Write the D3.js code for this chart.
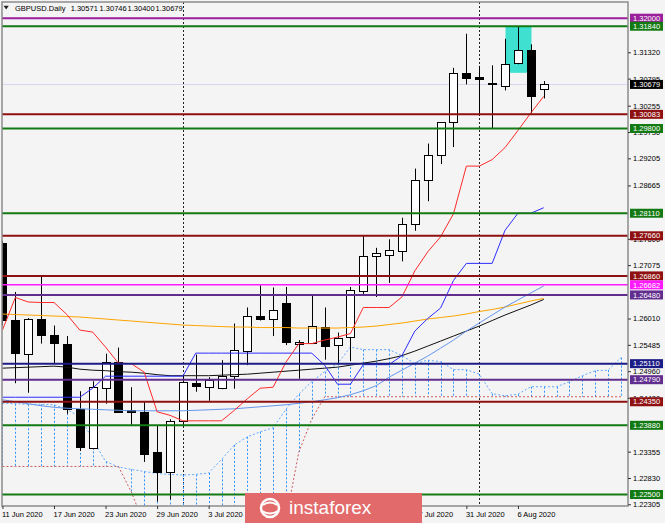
<!DOCTYPE html>
<html><head><meta charset="utf-8">
<script src="https://cdn.jsdelivr.net/npm/d3@7"></script>
<style>
html,body{margin:0;padding:0;background:#f4f4f4;}
svg{display:block;}
text{font-family:"Liberation Sans",Arial,sans-serif;}
</style></head><body>
<svg id="c" width="665" height="523"></svg>
<script>
// ---------- DATA ----------
const dates = ["2020-06-11","2020-06-12","2020-06-15","2020-06-16","2020-06-17","2020-06-18","2020-06-19",
"2020-06-22","2020-06-23","2020-06-24","2020-06-25","2020-06-26","2020-06-29","2020-06-30","2020-07-01",
"2020-07-02","2020-07-03","2020-07-06","2020-07-07","2020-07-08","2020-07-09","2020-07-10","2020-07-13",
"2020-07-14","2020-07-15","2020-07-16","2020-07-17","2020-07-20","2020-07-21","2020-07-22","2020-07-23",
"2020-07-24","2020-07-27","2020-07-28","2020-07-29","2020-07-30","2020-07-31","2020-08-03","2020-08-04",
"2020-08-05","2020-08-06","2020-08-07","2020-08-10"];
const open  = [1.2752,1.2599,1.2530,1.2600,1.2568,1.2550,1.2420,1.2344,1.2464,1.2515,1.2418,1.2415,1.2334,1.2295,1.2397,
1.2472,1.2465,1.2463,1.2487,1.2538,1.2606,1.2601,1.2631,1.2552,1.2553,1.2585,1.2550,1.2563,1.2657,1.2725,1.2728,
1.2735,1.2790,1.2878,1.2927,1.2992,1.3090,1.3082,1.3070,1.3066,1.3111,1.3136,1.30571];
const high  = [1.2756,1.2654,1.2602,1.2687,1.2587,1.2566,1.2456,1.2476,1.2531,1.2543,1.2464,1.2435,1.2388,1.2400,1.2488,
1.2529,1.2484,1.2518,1.2591,1.2623,1.2667,1.2663,1.2664,1.2558,1.2647,1.2623,1.2573,1.2664,1.2766,1.2742,1.2759,
1.2802,1.2900,1.2950,1.2992,1.3101,1.3169,1.3105,1.3106,1.3159,1.3184,1.3148,1.30746];
const low   = [1.2587,1.2472,1.2453,1.2551,1.2512,1.2411,1.2337,1.2340,1.2431,1.2413,1.2389,1.2315,1.2236,1.2240,1.2385,
1.2455,1.2437,1.2460,1.2461,1.2508,1.2597,1.2566,1.2548,1.2481,1.2550,1.2519,1.2511,1.2516,1.2649,1.2644,1.2672,
1.2715,1.2776,1.2835,1.2909,1.2943,1.3068,1.3005,1.2980,1.3056,1.3108,1.3010,1.30400];
const close = [1.2598,1.2534,1.2600,1.2568,1.2552,1.2420,1.2344,1.2465,1.2515,1.2415,1.2415,1.2332,1.2295,1.2397,1.2474,
1.2467,1.2478,1.2487,1.2538,1.2607,1.2601,1.2619,1.2553,1.2555,1.2587,1.2548,1.2563,1.2657,1.2726,1.2731,1.2737,
1.2789,1.2878,1.2928,1.2992,1.3090,1.3080,1.3078,1.3068,1.3109,1.3136,1.3045,1.30679];

// Ichimoku
const tenkan = [1.2578,1.2643,1.2634,1.2633,1.2633,1.2609,1.2578,1.2574,1.2544,1.2512,1.2511,1.2494,1.2415,1.2408,1.2397,
1.2397,1.2397,1.2397,1.2418,1.2441,1.2462,1.2464,1.2514,1.2551,1.2551,1.2558,1.2564,1.2571,1.2623,1.2623,1.2623,
1.2644,1.2696,1.2734,1.2764,1.2810,1.2905,1.2905,1.2918,1.2942,1.2976,1.3011,1.3044];
const kijun = [1.2444,1.2444,1.2444,1.2444,1.2444,1.2444,1.2444,1.2462,1.2486,1.2486,1.2486,1.2486,1.2486,1.2486,1.2486,
1.2532,1.2532,1.2532,1.2532,1.2532,1.2532,1.2532,1.2532,1.2532,1.2532,1.2508,1.2470,1.2470,1.2509,1.2509,1.2509,
1.2527,1.2576,1.2601,1.2622,1.2677,1.2711,1.2711,1.2711,1.2777,1.2811,1.2811,1.2822];
const spanA = [1.2432,1.2431,1.2430,1.2430,1.2429,1.2420,1.2405,1.2360,1.2316,1.2305,1.2300,1.2296,1.2292,1.2290,1.2289,
1.2290,1.2293,1.2320,1.2349,1.2365,1.2375,1.2383,1.2420,1.2450,1.2475,1.2495,1.2511,1.2544,1.2539,1.2539,1.2539,
1.2527,1.2511,1.2518,1.2515,1.2499,1.2499,1.2490,1.2451,1.2447,1.2450,1.2465,1.2465,1.2465,1.2475,1.2487,1.2497,
1.2498,1.2523];
const spanB = [1.2306,1.2306,1.2306,1.2306,1.2306,1.2306,1.2306,1.2306,1.2306,1.2306,1.2255,1.2190,1.2150,1.2150,1.2150,
1.2150,1.2150,1.2150,1.2150,1.2150,1.2150,1.2150,1.2200,1.2335,1.2400,1.2445,1.2445,1.2445,1.2445,1.2445,1.2445,
1.2445,1.2445,1.2445,1.2445,1.2445,1.2445,1.2445,1.2445,1.2445,1.2445,1.2445,1.2445,1.2445,1.2445,1.2445,1.2445,
1.2445,1.2445];

// Moving averages
const sma50 = [1.2439,1.2435,1.2431,1.2427,1.2424,1.2422,1.2421,1.2420,1.2419,1.2418,1.2417,1.2417,1.2417,1.2417,1.2417,
1.2418,1.2419,1.2420,1.2421,1.2423,1.2425,1.2427,1.2429,1.2432,1.2435,1.2439,1.2443,1.2449,1.2457,1.2467,1.2484,
1.2498,1.2512,1.2526,1.2542,1.2558,1.2576,1.2592,1.2608,1.2624,1.2638,1.2652,1.2666];
const ema89 = [1.2502,1.2503,1.2504,1.2505,1.2506,1.2504,1.2500,1.2498,1.2497,1.2495,1.2494,1.2492,1.2489,1.2487,1.2487,
1.2487,1.2487,1.2488,1.2489,1.2490,1.2492,1.2494,1.2496,1.2498,1.2500,1.2502,1.2504,1.2508,1.2512,1.2516,1.2521,
1.2527,1.2536,1.2546,1.2556,1.2566,1.2576,1.2586,1.2597,1.2608,1.2618,1.2628,1.2639];
const ema200 = [1.2610,1.2609,1.2608,1.2607,1.2606,1.2605,1.2604,1.2602,1.2600,1.2598,1.2596,1.2594,1.2592,1.2590,1.2588,
1.2587,1.2586,1.2585,1.2584,1.2584,1.2583,1.2583,1.2583,1.2582,1.2582,1.2582,1.2582,1.2583,1.2584,1.2586,1.2589,
1.2592,1.2596,1.2600,1.2603,1.2606,1.2610,1.2615,1.2619,1.2624,1.2630,1.2636,1.2641];

// Horizontal levels
const levels = [1.32000,1.31840,1.30083,1.29800,1.28110,1.27660,1.26860,1.26682,1.26480,1.25110,1.24790,1.24350,1.23880,1.22500];
const levelKind = ["violet","green","red","green","green","red","red","magenta","purple","navy","purple","red","green","green"];
const lastPrice = 1.30679;
const headerValues = ["1.30571","1.30746","1.30400","1.30679"];
// price-scale labels that are visible (fully or partly) beside the level boxes
const yTickValues = [1.31320,1.30795,1.30255,1.29730,1.29205,1.28665,1.27600,1.27075,1.26010,1.25485,
1.24960,1.24430,1.23355,1.22830,1.22305];
// date labels that are not covered by the logo
const xTickIndex = [0,4,8,12,16,32,36,40];
const boxIndex = [39,41];
const boxPrice = [1.3184,1.3091];
const separatorIndex = [14,37];
const nFuture = 49;

// ---------- STYLE ----------
const kindColor = {violet:"#9a1f9a",green:"#137a13",red:"#8e1010",magenta:"#ff1aff",purple:"#612d8f",navy:"#1c1c86"};
const W = 665, H = 523;
const L = 2, R = 628, T = 2, B = 506;

const svg = d3.select("#c");
svg.append("rect").attr("width",W).attr("height",H).attr("fill","#f4f4f4");

const x = d3.scaleLinear().domain([0,48]).range([2.45, 2.45 + 48*12.887]);
const y = d3.scaleLinear().domain([1.22271,1.32323]).range([B,T]);
const px = i => Math.round(x(i)) + 0.5;

svg.append("clipPath").attr("id","clip").append("rect").attr("x",L).attr("y",T).attr("width",R-L).attr("height",B-T);
const g = svg.append("g").attr("clip-path","url(#clip)");

// current price line
g.append("line").attr("x1",L).attr("x2",R).attr("y1",Math.round(y(lastPrice))+0.5).attr("y2",Math.round(y(lastPrice))+0.5)
 .attr("stroke","#d6d6ee").attr("stroke-width",1);

// cyan rectangle
g.append("rect").attr("x",px(boxIndex[0])).attr("width",px(boxIndex[1])-px(boxIndex[0]))
 .attr("y",y(boxPrice[0])).attr("height",y(boxPrice[1])-y(boxPrice[0])).attr("fill","#40e0d0");

// period separators
separatorIndex.forEach(i=>{
  g.append("line").attr("x1",px(i)).attr("x2",px(i)).attr("y1",T).attr("y2",B)
   .attr("stroke","#222").attr("stroke-width",1).attr("stroke-dasharray","2,2");
});

// cloud hatching
const idxAll = d3.range(nFuture);
g.append("g").selectAll("line").data(idxAll).join("line")
 .attr("x1",i=>px(i)).attr("x2",i=>px(i))
 .attr("y1",i=>y(spanA[i])).attr("y2",i=>y(spanB[i]))
 .attr("stroke","#2f93ff").attr("stroke-width",1).attr("stroke-dasharray","2,2");
const lineF = arr => d3.line().x((d,i)=>x(i)).y(d=>y(d))(arr);
g.append("path").attr("d",lineF(spanA)).attr("fill","none").attr("stroke","#63aaff").attr("stroke-width",1).attr("stroke-dasharray","2,2");
g.append("path").attr("d",lineF(spanB)).attr("fill","none").attr("stroke","#cd5c5c").attr("stroke-width",1).attr("stroke-dasharray","2,2");

// candles
const idx = d3.range(dates.length);
const cg = g.append("g");
cg.selectAll("line.w").data(idx).join("line").attr("class","w")
 .attr("x1",i=>px(i)).attr("x2",i=>px(i)).attr("y1",i=>y(high[i])).attr("y2",i=>y(low[i]))
 .attr("stroke","#000").attr("stroke-width",1);
cg.selectAll("rect").data(idx).join("rect")
 .attr("x",i=>px(i)-4).attr("width",8)
 .attr("y",i=>Math.round(y(Math.max(open[i],close[i])))+0.5)
 .attr("height",i=>Math.max(1,Math.round(Math.abs(y(open[i])-y(close[i])))))
 .attr("fill",i=>close[i]>=open[i]?"#ffffff":"#000000")
 .attr("stroke","#000").attr("stroke-width",1);

// indicator lines
[[ema200,"#ffa500"],[ema89,"#111"],[sma50,"#6495ed"],[kijun,"#2d2dff"],[tenkan,"#ff2a2a"]].forEach(([arr,col])=>{
  g.append("path").attr("d",lineF(arr)).attr("fill","none").attr("stroke",col).attr("stroke-width",1);
});

// level lines
levels.forEach((v,k)=>{
  const yy = y(v);
  g.append("line").attr("x1",L).attr("x2",R).attr("y1",yy).attr("y2",yy)
   .attr("stroke",kindColor[levelKind[k]]).attr("stroke-width",levelKind[k]==="magenta"?1.5:2);
});

// frame
svg.append("rect").attr("x",L).attr("y",T).attr("width",R-L).attr("height",B-T)
 .attr("fill","none").attr("stroke","#8c8c8c").attr("stroke-width",1.5);

// axes
const fmt = d3.timeFormat("%-d %b %Y");
const parse = d3.timeParse("%Y-%m-%d");
const yAxis = svg.append("g").attr("transform",`translate(${R},0)`)
 .call(d3.axisRight(y).tickValues(yTickValues).tickFormat(d3.format(".5f")).tickSize(3).tickPadding(2));
yAxis.select(".domain").remove();
yAxis.selectAll("text").attr("font-size","7.5px").attr("fill","#000").attr("font-family","Liberation Sans, Arial, sans-serif");
yAxis.selectAll("line").attr("stroke","#333");

const xAxis = svg.append("g").attr("transform",`translate(0,${B})`)
 .call(d3.axisBottom(x).tickValues(xTickIndex).tickFormat(i=>fmt(parse(dates[i]))).tickSize(3));
xAxis.select(".domain").remove();
xAxis.selectAll("text").attr("font-size","7.5px").attr("fill","#000").attr("text-anchor","start")
 .attr("x",-1).attr("y",10.5).attr("dy","0").attr("font-family","Liberation Sans, Arial, sans-serif");
xAxis.selectAll("line").attr("stroke","#333");

// level label boxes
function priceBox(v,bg){
  const yy = y(v);
  svg.append("rect").attr("x",630).attr("y",yy-4.5).attr("width",33).attr("height",9).attr("fill",bg);
  svg.append("text").attr("x",633).attr("y",yy+2.7).attr("font-size","7.5px").attr("fill","#fff").text(d3.format(".5f")(v));
}
levels.forEach((v,k)=>priceBox(v,kindColor[levelKind[k]]));
priceBox(lastPrice,"#000");

// header
svg.append("path").attr("d","M3.5,5.8 L8.8,5.8 L6.15,9.4 Z").attr("fill","#222");
const ht = svg.append("text").attr("y",11.3).attr("font-size","7.5px").attr("fill","#000");
ht.append("tspan").attr("x",15).text("GBPUSD.Daily");
const hx = [70.7,99.6,127.6,155.6];
headerValues.forEach((s,k)=>ht.append("tspan").attr("x",hx[k]).text(s));

// logo
const lg = svg.append("g");
lg.append("rect").attr("x",245).attr("y",493).attr("width",177).attr("height",30).attr("fill","#e26a6a");
lg.append("circle").attr("cx",270).attr("cy",508).attr("r",9).attr("fill","none").attr("stroke","#fff").attr("stroke-width",2.5);
lg.append("path").attr("d","M263,505 Q270,500 277,505 M262,511 Q270,516 278,511").attr("fill","none").attr("stroke","#fff").attr("stroke-width",2);
lg.append("text").attr("x",289).attr("y",514).attr("font-size","19px").attr("fill","#fff")
 .attr("font-family","'Open Sans',Roboto,sans-serif").text("instaforex");
</script>
</body></html>
